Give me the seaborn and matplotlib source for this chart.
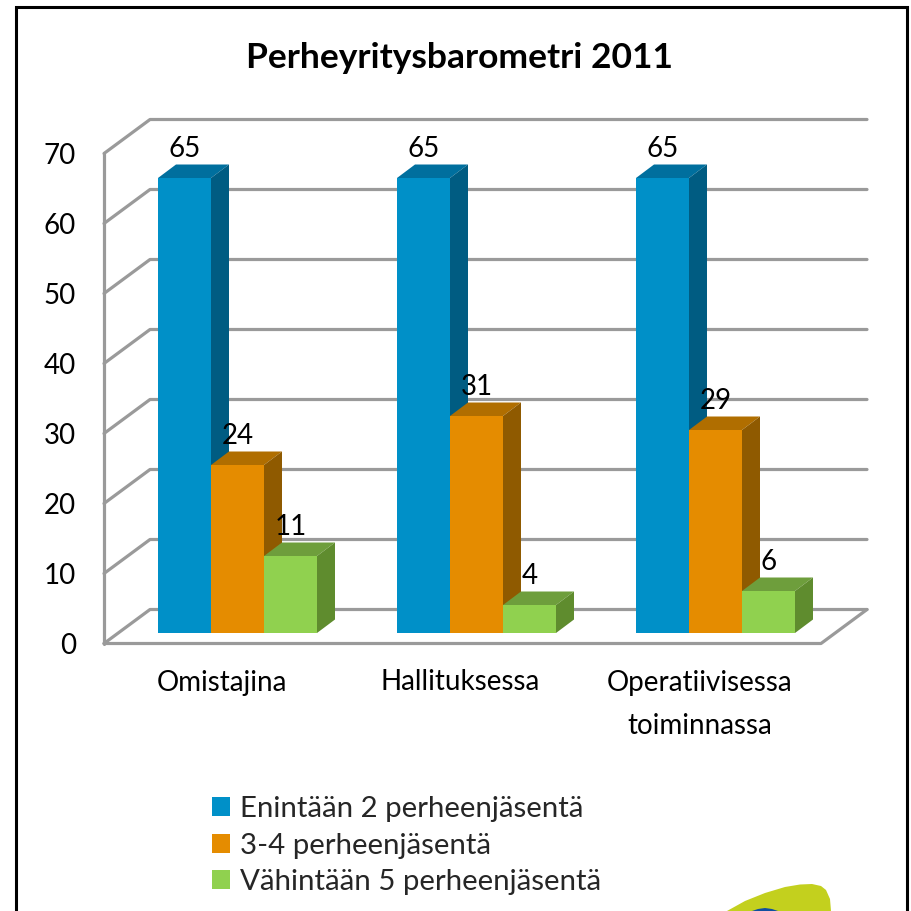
import pandas as pd
import matplotlib
matplotlib.use("Agg")
import matplotlib.pyplot as plt
from matplotlib.patches import Polygon
import seaborn as sns

categories = ["Omistajina", "Hallituksessa", "Operatiivisessa\ntoiminnassa"]
series_names = ["Enintään 2 perheenjäsentä", "3-4 perheenjäsentä", "Vähintään 5 perheenjäsentä"]
enintaan_2 = [65, 65, 65]
kolme_nelja = [24, 31, 29]
vahintaan_5 = [11, 4, 6]
y_ticks = [0, 10, 20, 30, 40, 50, 60, 70]
title = "Perheyritysbarometri 2011"

front_colors = ["#0090C8", "#E58C00", "#90D14F"]
top_colors = ["#006F9E", "#B06E00", "#6E9E3C"]
side_colors = ["#005C82", "#8F5A00", "#5F8C2E"]
grid_color = "#9A9A9A"
FONT = "Lato"
FS = 20

# pixel scale of the bar plane
W, H = 912, 911
PX_X = 239.0
PX_Y = 7.0
X0 = 237.5
Y0 = 633.0


def dx(px):
    return px / PX_X


def dy(px):
    return px / PX_Y


def to_x(px):
    return (px - X0) / PX_X


def to_y(py):
    return (Y0 - py) / PX_Y


df = pd.DataFrame({
    "kategoria": categories * 3,
    "sarja": [s for s in series_names for _ in categories],
    "arvo": enintaan_2 + kolme_nelja + vahintaan_5,
})

sns.set_style("white")
plt.rcParams["font.family"] = [FONT, "DejaVu Sans"]

fig = plt.figure(figsize=(W / 100, H / 100), dpi=100)
ax = fig.add_axes([0, 0, 1, 1])

sns.barplot(data=df, x="kategoria", y="arvo", hue="sarja", hue_order=series_names,
            palette=front_colors, width=159 / 239, gap=0, saturation=1, errorbar=None,
            linewidth=0, ax=ax)

ax.set_xlim(to_x(0), to_x(W))
ax.set_ylim(to_y(H), to_y(0))

#%% walls and floor

wall_kw = dict(color=grid_color, lw=2.3, solid_capstyle="round", solid_joinstyle="round", zorder=1)
front_x0, back_x0, back_x1, front_x1 = to_x(104), to_x(150), to_x(867), to_x(821)
front_lift, back_lift = dy(-10.5), dy(23.5)

for t in y_ticks:
    ax.plot([front_x0, back_x0, back_x1], [t + front_lift, t + back_lift, t + back_lift], **wall_kw)
ax.plot([front_x0, front_x0], [y_ticks[0] + front_lift, y_ticks[-1] + front_lift], **wall_kw)
ax.plot([front_x0, front_x1, back_x1], [front_lift, front_lift, back_lift], **wall_kw)

#%% 3D bar sides

depth_x, depth_y = dx(18), dy(13.5)
for i, container in enumerate(ax.containers):
    base_z = 3 + i
    for bar in container:
        x, w, h = bar.get_x(), bar.get_width(), bar.get_height()
        ax.add_patch(Polygon([(x, h), (x + w, h), (x + w + depth_x, h + depth_y), (x + depth_x, h + depth_y)],
                             facecolor=top_colors[i], edgecolor="none", zorder=base_z))
        ax.add_patch(Polygon([(x + w, 0), (x + w + depth_x, depth_y), (x + w + depth_x, h + depth_y), (x + w, h)],
                             facecolor=side_colors[i], edgecolor="none", zorder=base_z))
        bar.set_zorder(base_z + 0.5)
        ax.text(x + w / 2, h + dy(29), f"{h:.0f}", ha="center", va="center",
                fontsize=FS, color="black", zorder=10)

#%% text

for t in y_ticks:
    ax.text(to_x(76), t + front_lift + dy(-2.5), str(t), ha="right", va="center", fontsize=FS, color="black")

for i, cat in enumerate(categories):
    ax.text(i + dx(-16), to_y(669.5), cat, ha="center", va="top", fontsize=FS,
            color="black", linespacing=1.83)

ax.text(to_x(459.5), to_y(58.5), title, ha="center", va="center", fontsize=25.5, fontweight="bold", color="black")

sns.move_legend(ax, "upper left", bbox_to_anchor=(212 / W, 1 - 796 / H), frameon=False, title=None,
                fontsize=21.2, labelspacing=0.36, handlelength=0.62, handleheight=0.62,
                handletextpad=0.32, borderpad=0, borderaxespad=0)

#%% page frame and logo corner

frame_kw = dict(color="black", lw=2.2, solid_joinstyle="miter", zorder=20)
ax.plot([to_x(15.5), to_x(15.5), to_x(907), to_x(907)], [to_y(H), to_y(7), to_y(7), to_y(H)], **frame_kw)

logo_yellow = [(727, 911), (745, 901), (765, 893), (785, 887), (800, 884.5), (812, 884),
               (821, 886), (826, 890), (830, 899), (831, 911)]
logo_blue = [(752, 911), (758, 909), (765, 908), (772, 909), (778, 911)]
ax.add_patch(Polygon([(to_x(a), to_y(b)) for a, b in logo_yellow], facecolor="#C3D01E", edgecolor="none", zorder=2))
ax.add_patch(Polygon([(to_x(a), to_y(b)) for a, b in logo_blue], facecolor="#0F4FA0", edgecolor="none", zorder=3))

ax.set_axis_off()
fig.savefig("out.png", dpi=100, facecolor="white")
